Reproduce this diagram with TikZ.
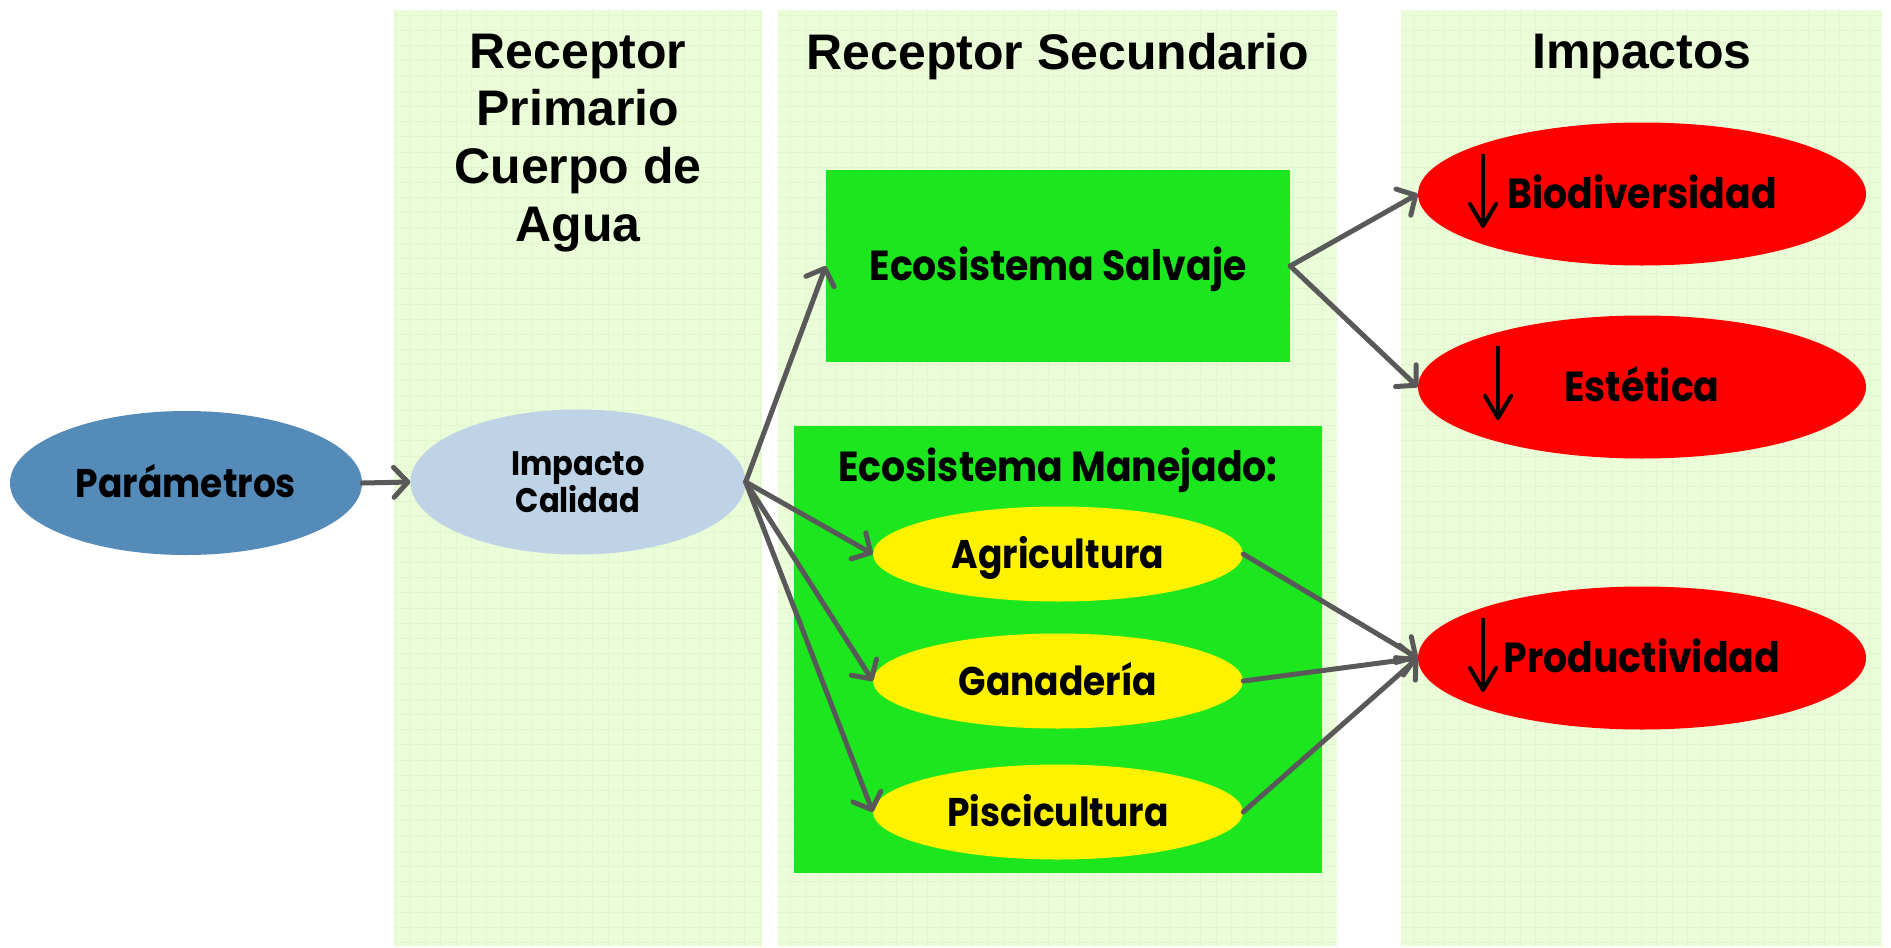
\documentclass[tikz,border=0pt]{standalone}
\usepackage{fontspec}
\setmainfont{Liberation Sans}
\newfontfamily\futura{Poppins}[FakeStretch=0.9]
\usetikzlibrary{shapes.geometric,arrows.meta,calc}
\definecolor{panelbg}{RGB}{235,252,217}
\definecolor{gridc}{RGB}{224,247,204}
\definecolor{parblue}{RGB}{84,139,185}
\definecolor{implight}{RGB}{191,211,230}
\definecolor{ecogreen}{RGB}{28,231,30}
\definecolor{arrgray}{RGB}{89,89,89}
\newcommand\mypanel[4]{%
  \fill[panelbg] (#1,#2) rectangle (#3,#4);
  \begin{scope}
    \clip (#1,#2) rectangle (#3,#4);
    \foreach \gx in {0,...,125} \draw[gridc, line width=0.8pt] (\gx*15.2,0) -- (\gx*15.2,948);
    \foreach \gy in {0,...,63} \draw[gridc, line width=0.8pt] (0,\gy*15.2) -- (1891,\gy*15.2);
  \end{scope}}
\begin{document}
\begin{tikzpicture}[x=1pt,y=-1pt,
  title/.style={font=\fontsize{50}{57.7}\selectfont\bfseries, align=center, anchor=north, inner sep=0pt},
  lab/.style={font=\futura\bfseries\fontsize{42}{50}\selectfont, text height=29pt, text depth=0pt},
  ylab/.style={font=\futura\bfseries\fontsize{40}{48}\selectfont, text height=28pt, text depth=0pt},
  oval/.style={ellipse, inner sep=0pt},
  conn/.style={draw=arrgray, line width=5pt, line cap=round, -{Straight Barb[round,length=14pt,width=30pt]}},
  downarr/.style={draw=black, line width=4pt, -{Straight Barb[round,length=22pt,width=26pt]}}]
\useasboundingbox (0,0) rectangle (1891,948);
\fill[white] (0,0) rectangle (1891,948);
\mypanel{394}{10}{762}{946}
\mypanel{778}{10}{1337}{946}
\mypanel{1401}{10}{1882}{946}

% titles
\node[title] (t1) at (578,33.5) {Receptor\\Primario\\Cuerpo de\\Agua};
\node[title] (t2) at (1058,33.5) {Receptor Secundario};
\node[title] (t3) at (1642,33.5) {Impactos};

% nodes
\node[oval, fill=parblue, minimum width=352pt, minimum height=144pt, ylab] (par) at (186,483) {Parámetros};
\node[oval, fill=implight, minimum width=335pt, minimum height=145pt, align=center,
      font=\futura\bfseries\fontsize{34}{37}\selectfont] (imp) at (578,482) {Impacto\\Calidad};
\node[rectangle, fill=ecogreen, minimum width=464pt, minimum height=192pt, lab] (sal) at (1058,266) {Ecosistema Salvaje};
\node[rectangle, fill=ecogreen, minimum width=528pt, minimum height=447pt, inner sep=0pt] (man) at (1058,649.5) {};
\node[lab] (mant) at (1058,467) {Ecosistema Manejado:};
\node[oval, fill=yellow, minimum width=370pt, minimum height=95pt, ylab] (agr) at (1058,554) {Agricultura};
\node[oval, fill=yellow, minimum width=370pt, minimum height=95pt, ylab] (gan) at (1058,681) {Ganadería};
\node[oval, fill=yellow, minimum width=370pt, minimum height=95pt, ylab] (pis) at (1058,812) {Piscicultura};
\node[oval, fill=red, minimum width=448pt, minimum height=143pt, lab] (bio) at (1642,194) {Biodiversidad};
\node[oval, fill=red, minimum width=448pt, minimum height=143pt, lab] (est) at (1642,387) {Estética};
\node[oval, fill=red, minimum width=448pt, minimum height=143pt, lab] (pro) at (1642,658) {Productividad};

% down arrows inside impact ovals
\draw[downarr] ($(bio.center)+(-159,-40)$) -- ($(bio.center)+(-159,34)$);
\draw[downarr] ($(est.center)+(-144,-41)$) -- ($(est.center)+(-144,33)$);
\draw[downarr] ($(pro.center)+(-159,-40)$) -- ($(pro.center)+(-159,34)$);

% connectors
\draw[conn] (par.east) -- (imp.west);
\draw[conn] (imp.east) -- (sal.west);
\draw[conn] (imp.east) -- (agr.west);
\draw[conn] (imp.east) -- (gan.west);
\draw[conn] (imp.east) -- (pis.west);
\draw[conn] (sal.east) -- (bio.west);
\draw[conn] (sal.east) -- (est.west);
\draw[conn] (agr.east) -- (pro.west);
\draw[conn] (gan.east) -- (pro.west);
\draw[conn] (pis.east) -- (pro.west);
\end{tikzpicture}
\end{document}
